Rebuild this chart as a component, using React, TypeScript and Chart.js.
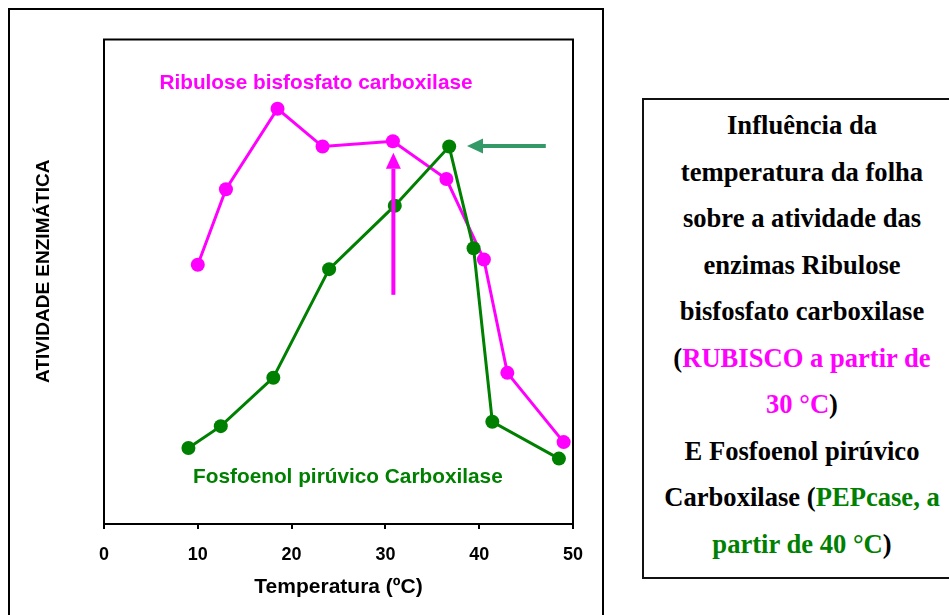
import React, { useEffect, useRef } from "react";
import { Chart, registerables } from "chart.js";

Chart.register(...registerables);

// ---- data ----
const temperatureTicks = [0, 10, 20, 30, 40, 50];
const rubiscoTemp = [10.0, 13.0, 18.5, 23.3, 30.8, 36.5, 40.5, 43.0, 49.0];
const rubiscoActivity = [53.5, 69.1, 85.7, 77.9, 79.0, 71.2, 54.6, 31.2, 16.9];
const pepcaseTemp = [9.0, 12.45, 18.05, 24.0, 31.0, 36.8, 39.4, 41.4, 48.5];
const pepcaseActivity = [15.7, 20.2, 30.2, 52.6, 65.7, 77.9, 56.9, 21.1, 13.5];
const seriesLabels = ["Ribulose bisfosfato carboxilase", "Fosfoenol pirúvico Carboxilase"];
const xTitle = "Temperatura (ºC)";
const yTitle = "ATIVIDADE ENZIMÁTICA";

// annotation anchors, in data units
const rubiscoLabelAt = [22.6, 91.0];
const pepcaseLabelAt = [26.0, 9.7];
const rubiscoArrow = [30.85, 47.3, 76.6]; // x, from y, to y
const pepcaseArrow = [78.0, 47.1, 38.7]; // y, from x, to x

const MAGENTA = "#FF00FF";
const GREEN = "#008000";
const ARROW_GREEN = "#339966";
const SANS = "'Liberation Sans', Arial, Helvetica, sans-serif";

function drawArrow(
  ctx: CanvasRenderingContext2D,
  x1: number, y1: number, x2: number, y2: number,
  color: string, width: number, headLen: number, headWidth: number
) {
  const ang = Math.atan2(y2 - y1, x2 - x1);
  const bx = x2 - headLen * Math.cos(ang);
  const by = y2 - headLen * Math.sin(ang);
  ctx.strokeStyle = color;
  ctx.fillStyle = color;
  ctx.lineWidth = width;
  ctx.lineCap = "butt";
  ctx.beginPath();
  ctx.moveTo(x1, y1);
  ctx.lineTo(bx, by);
  ctx.stroke();
  const px = -Math.sin(ang) * headWidth / 2;
  const py = Math.cos(ang) * headWidth / 2;
  ctx.beginPath();
  ctx.moveTo(x2, y2);
  ctx.lineTo(bx + px, by + py);
  ctx.lineTo(bx - px, by - py);
  ctx.closePath();
  ctx.fill();
}

const annotationPlugin = {
  id: "annotations",
  beforeDatasetsDraw(chart: any) {
    const { ctx, chartArea } = chart;
    ctx.save();
    ctx.strokeStyle = "#000";
    ctx.lineWidth = 2;
    ctx.strokeRect(chartArea.left, chartArea.top, chartArea.right - chartArea.left, chartArea.bottom - chartArea.top);
    ctx.restore();
  },
  afterDatasetsDraw(chart: any) {
    const { ctx } = chart;
    const x = chart.scales.x;
    const y = chart.scales.y;
    ctx.save();
    ctx.font = `bold 20.8px ${SANS}`;
    ctx.textAlign = "center";
    ctx.textBaseline = "middle";
    ctx.fillStyle = MAGENTA;
    ctx.fillText(seriesLabels[0], x.getPixelForValue(rubiscoLabelAt[0]), y.getPixelForValue(rubiscoLabelAt[1]));
    ctx.fillStyle = GREEN;
    ctx.fillText(seriesLabels[1], x.getPixelForValue(pepcaseLabelAt[0]), y.getPixelForValue(pepcaseLabelAt[1]));

    drawArrow(
      ctx,
      x.getPixelForValue(rubiscoArrow[0]), y.getPixelForValue(rubiscoArrow[1]),
      x.getPixelForValue(rubiscoArrow[0]), y.getPixelForValue(rubiscoArrow[2]),
      MAGENTA, 4, 16, 15
    );
    drawArrow(
      ctx,
      x.getPixelForValue(pepcaseArrow[1]), y.getPixelForValue(pepcaseArrow[0]),
      x.getPixelForValue(pepcaseArrow[2]), y.getPixelForValue(pepcaseArrow[0]),
      ARROW_GREEN, 4, 16, 15
    );
    ctx.restore();
  },
};

export default function App() {
  const canvasRef = useRef<HTMLCanvasElement | null>(null);

  useEffect(() => {
    if (!canvasRef.current) return;
    const tickFont = { family: SANS, size: 18, weight: "bold" as const };
    const chart = new Chart(canvasRef.current, {
      type: "line",
      data: {
        datasets: [
          {
            label: seriesLabels[1],
            data: pepcaseTemp.map((t, i) => ({ x: t, y: pepcaseActivity[i] })),
            borderColor: GREEN,
            backgroundColor: GREEN,
            borderWidth: 3,
            pointRadius: 7,
            pointBorderWidth: 0,
            pointBackgroundColor: GREEN,
            tension: 0,
          },
          {
            label: seriesLabels[0],
            data: rubiscoTemp.map((t, i) => ({ x: t, y: rubiscoActivity[i] })),
            borderColor: MAGENTA,
            backgroundColor: MAGENTA,
            borderWidth: 3,
            pointRadius: 7,
            pointBorderWidth: 0,
            pointBackgroundColor: MAGENTA,
            tension: 0,
          },
        ],
      },
      options: {
        animation: false,
        responsive: false,
        events: [],
        layout: { padding: { top: 39.5, right: 30, bottom: 0, left: 0 } },
        plugins: { legend: { display: false }, tooltip: { enabled: false } },
        scales: {
          x: {
            type: "linear",
            min: 0,
            max: 50,
            afterBuildTicks: (s: any) => {
              s.ticks = temperatureTicks.map((v) => ({ value: v }));
            },
            ticks: { color: "#000", font: tickFont, padding: 15, maxRotation: 0 },
            grid: { drawOnChartArea: false, drawTicks: true, tickLength: 5, color: "#000", lineWidth: 2 },
            border: { display: false },
            title: {
              display: true,
              text: xTitle,
              color: "#000",
              font: { family: SANS, size: 21, weight: "bold" },
              padding: { top: 0, bottom: 15.4 },
            },
            afterFit: (s: any) => {
              s.height = 91;
            },
          },
          y: {
            type: "linear",
            min: 0,
            max: 100,
            ticks: { display: false },
            grid: { display: false },
            border: { display: false },
            title: {
              display: true,
              text: "    " + yTitle,
              color: "#000",
              font: { family: SANS, size: 19, weight: "bold" },
              padding: { top: 32, bottom: 0 },
            },
            afterFit: (s: any) => {
              s.width = 104;
            },
          },
        },
      },
      plugins: [annotationPlugin],
    } as any);
    return () => chart.destroy();
  }, []);

  const serif = "'Liberation Serif', 'Times New Roman', Times, serif";

  return (
    <div
      style={{
        position: "fixed",
        left: 0,
        top: 0,
        width: 949,
        height: 615,
        overflow: "hidden",
        background: "#fff",
      }}
    >
      <div
        style={{
          position: "absolute",
          left: 8,
          top: 8,
          width: 596,
          height: 700,
          border: "2px solid #000",
          boxSizing: "border-box",
        }}
      />
      <canvas
        ref={canvasRef}
        width={603}
        height={615}
        style={{ position: "absolute", left: 0, top: 0, width: 603, height: 615 }}
      />
      <div
        style={{
          position: "absolute",
          left: 642,
          top: 98,
          width: 320,
          height: 481,
          border: "2px solid #111",
          boxSizing: "border-box",
          paddingTop: 2,
          textAlign: "center",
          fontFamily: serif,
          fontWeight: "bold",
          fontSize: 26.6,
          lineHeight: "46.5px",
          color: "#000",
          whiteSpace: "nowrap",
        }}
      >
        Influência da
        <br />
        temperatura da folha
        <br />
        sobre a atividade das
        <br />
        enzimas Ribulose
        <br />
        bisfosfato carboxilase
        <br />
        (<span style={{ color: MAGENTA }}>RUBISCO a partir de</span>
        <br />
        <span style={{ color: MAGENTA }}>30 °C</span>)
        <br />
        E Fosfoenol pirúvico
        <br />
        Carboxilase (<span style={{ color: GREEN }}>PEPcase, a</span>
        <br />
        <span style={{ color: GREEN }}>partir de 40 °C</span>)
      </div>
    </div>
  );
}
